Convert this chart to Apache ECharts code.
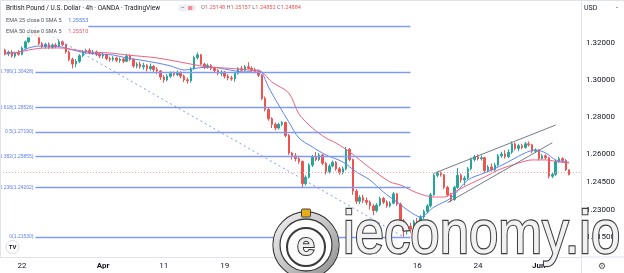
<!DOCTYPE html>
<html><head><meta charset="utf-8">
<script src="https://cdn.jsdelivr.net/npm/echarts/dist/echarts.min.js"></script>
<style>html,body{margin:0;padding:0;background:#fff;overflow:hidden}#c{width:624px;height:273px}</style>
</head><body><div id="c"></div><script>
// ---- data (8h-style candles) ----
const openP = [1.3160,1.3140,1.3150,1.3128,1.3145,1.3138,1.3172,1.3205,1.3245,1.3265,
1.3240,1.3195,1.3180,1.3192,1.3175,1.3188,1.3180,1.3205,1.3190,1.3150,
1.3110,1.3085,1.3100,1.3130,1.3150,1.3158,1.3145,1.3150,1.3138,1.3128,
1.3135,1.3115,1.3110,1.3118,1.3105,1.3112,1.3100,1.3128,1.3110,1.3075,
1.3085,1.3070,1.3078,1.3060,1.3072,1.3055,1.3048,1.3015,1.3000,1.3020,
1.3035,1.3028,1.3040,1.3020,1.3000,1.2995,1.3060,1.3120,1.3135,1.3085,
1.3068,1.3078,1.3062,1.3050,1.3035,1.3042,1.3020,1.3010,1.3005,1.3035,
1.3060,1.3052,1.3070,1.3062,1.3055,1.3045,1.3025,1.2900,1.2840,1.2790,
1.2760,1.2740,1.2760,1.2770,1.2700,1.2605,1.2590,1.2575,1.2560,1.2440,
1.2475,1.2540,1.2585,1.2570,1.2595,1.2550,1.2505,1.2535,1.2555,1.2520,
1.2500,1.2520,1.2625,1.2570,1.2400,1.2345,1.2365,1.2350,1.2340,1.2320,
1.2295,1.2325,1.2360,1.2340,1.2320,1.2335,1.2385,1.2330,1.2240,1.2185,
1.2210,1.2195,1.2235,1.2225,1.2260,1.2290,1.2320,1.2380,1.2485,1.2495,
1.2488,1.2420,1.2380,1.2355,1.2420,1.2485,1.2460,1.2470,1.2520,1.2570,
1.2585,1.2575,1.2580,1.2510,1.2530,1.2515,1.2540,1.2590,1.2600,1.2585,
1.2610,1.2655,1.2630,1.2645,1.2635,1.2655,1.2650,1.2615,1.2620,1.2575,
1.2590,1.2580,1.2480,1.2490,1.2560,1.2575,1.2565,1.25148];
const highP = [1.3168,1.3158,1.3160,1.3152,1.3160,1.3180,1.3212,1.3255,1.3278,1.32874,
1.3248,1.3205,1.3200,1.3202,1.3196,1.3198,1.3215,1.3212,1.3195,1.3158,
1.3120,1.3112,1.3138,1.3160,1.3168,1.3170,1.3162,1.3158,1.3148,1.3145,
1.3140,1.3125,1.3128,1.3125,1.3120,1.3118,1.3140,1.3137,1.3115,1.3095,
1.3098,1.3092,1.3085,1.3088,1.3080,1.3068,1.3052,1.3025,1.3030,1.3045,
1.3045,1.3050,1.3046,1.3028,1.3012,1.3068,1.3130,1.3148,1.3140,1.3092,
1.3088,1.3085,1.3070,1.3058,1.3052,1.3048,1.3030,1.3022,1.3042,1.3068,
1.3075,1.3080,1.3095,1.3072,1.3065,1.3052,1.3030,1.2910,1.2850,1.2798,
1.2770,1.2768,1.2778,1.2775,1.2708,1.2612,1.2605,1.2590,1.2565,1.2485,
1.2550,1.2595,1.2610,1.2605,1.2600,1.2558,1.2545,1.2565,1.2562,1.2530,
1.2532,1.2638,1.2632,1.2575,1.2410,1.2378,1.2380,1.2365,1.2350,1.2330,
1.2335,1.2370,1.2368,1.2350,1.2345,1.2395,1.2390,1.2338,1.2250,1.2225,
1.2230,1.2245,1.2255,1.2270,1.2300,1.2330,1.2390,1.2495,1.2505,1.2505,
1.2492,1.2428,1.2390,1.2428,1.2525,1.2495,1.2482,1.2530,1.2580,1.2595,
1.2598,1.2592,1.2585,1.2540,1.2548,1.2552,1.2600,1.2612,1.2620,1.2625,
1.2668,1.2662,1.2655,1.2655,1.2665,1.2668,1.2655,1.2630,1.2625,1.2600,
1.2598,1.2585,1.2500,1.2568,1.2585,1.2582,1.2572,1.25157];
const lowP = [1.3132,1.3128,1.3120,1.3118,1.3130,1.3132,1.3165,1.3198,1.3232,1.3235,
1.3188,1.3170,1.3168,1.3166,1.3168,1.3170,1.3175,1.3182,1.3142,1.3100,
1.3062,1.3068,1.3090,1.3122,1.3140,1.3138,1.3135,1.3128,1.3118,1.3115,
1.3105,1.3098,1.3100,1.3095,1.3092,1.3090,1.3095,1.3102,1.3065,1.3062,
1.3060,1.3055,1.3045,1.3050,1.3040,1.3030,1.3000,1.2985,1.2992,1.3010,
1.3018,1.3020,1.3008,1.2988,1.2980,1.2985,1.3055,1.3110,1.3078,1.3058,
1.3060,1.3052,1.3040,1.3025,1.3020,1.3008,1.2998,1.2995,1.2990,1.3028,
1.3045,1.3045,1.3055,1.3045,1.3035,1.3015,1.2890,1.2830,1.2780,1.2740,
1.2728,1.2732,1.2750,1.2690,1.2595,1.2570,1.2560,1.2548,1.2420,1.2430,
1.2468,1.2530,1.2560,1.2562,1.2540,1.2490,1.2495,1.2528,1.2510,1.2488,
1.2490,1.2512,1.2560,1.2380,1.2330,1.2330,1.2335,1.2325,1.2300,1.2270,
1.2285,1.2318,1.2330,1.2310,1.2312,1.2328,1.2320,1.2230,1.2153,1.2165,
1.2175,1.2185,1.2210,1.2215,1.2250,1.2280,1.2312,1.2375,1.2475,1.2478,
1.2410,1.2370,1.2340,1.2348,1.2412,1.2445,1.2430,1.2462,1.2512,1.2560,
1.2565,1.2565,1.2498,1.2500,1.2505,1.2505,1.2532,1.2580,1.2575,1.2578,
1.2600,1.2620,1.2615,1.2625,1.2630,1.2640,1.2605,1.2605,1.2565,1.2570,
1.2570,1.2468,1.2470,1.2482,1.2552,1.2555,1.2508,1.24852];
const closeP = [1.3140,1.3150,1.3128,1.3145,1.3138,1.3172,1.3205,1.3245,1.3265,1.3240,
1.3195,1.3180,1.3192,1.3175,1.3188,1.3180,1.3205,1.3190,1.3150,1.3110,
1.3085,1.3100,1.3130,1.3150,1.3158,1.3145,1.3150,1.3138,1.3128,1.3135,
1.3115,1.3110,1.3118,1.3105,1.3112,1.3100,1.3128,1.3110,1.3075,1.3085,
1.3070,1.3078,1.3060,1.3072,1.3055,1.3048,1.3015,1.3000,1.3020,1.3035,
1.3028,1.3040,1.3020,1.3000,1.2995,1.3060,1.3120,1.3135,1.3085,1.3068,
1.3078,1.3062,1.3050,1.3035,1.3042,1.3020,1.3010,1.3005,1.3035,1.3060,
1.3052,1.3070,1.3062,1.3055,1.3045,1.3025,1.2900,1.2840,1.2790,1.2760,
1.2740,1.2760,1.2770,1.2700,1.2605,1.2590,1.2575,1.2560,1.2440,1.2475,
1.2540,1.2585,1.2570,1.2595,1.2550,1.2505,1.2535,1.2555,1.2520,1.2500,
1.2520,1.2625,1.2570,1.2400,1.2345,1.2365,1.2350,1.2340,1.2320,1.2295,
1.2325,1.2360,1.2340,1.2320,1.2335,1.2385,1.2330,1.2240,1.2185,1.2210,
1.2195,1.2235,1.2225,1.2260,1.2290,1.2320,1.2380,1.2485,1.2495,1.2488,
1.2420,1.2380,1.2355,1.2420,1.2485,1.2460,1.2470,1.2520,1.2570,1.2585,
1.2575,1.2580,1.2510,1.2530,1.2515,1.2540,1.2590,1.2600,1.2585,1.2610,
1.2655,1.2630,1.2645,1.2635,1.2655,1.2650,1.2615,1.2620,1.2575,1.2590,
1.2580,1.2480,1.2490,1.2560,1.2575,1.2565,1.2515,1.24884];

const ema25Idx = [0,3,7,10,15,19,24,28,32,36,40,45,49,53,57,61,65,71,75,76,78,81,84,87,91,95,100,104,108,112,116,120,123,127,132,137,142,146,150,154,157,160,163,167];
const ema25Val = [1.3145,1.3145,1.3172,1.3182,1.3182,1.3166,1.3145,1.3139,1.3134,1.3118,1.3107,1.3091,1.3075,1.3053,1.3064,1.3069,1.3058,1.3042,1.3053,1.3042,1.2961,1.2864,1.2773,1.2686,1.2638,1.2595,1.2557,1.2503,1.2460,1.2395,1.2341,1.2287,1.2260,1.2314,1.2363,1.2460,1.2498,1.2530,1.2568,1.2606,1.2622,1.2606,1.2568,1.25553];
const ema50Idx = [0,3,7,12,16,21,25,31,36,45,55,60,65,72,76,79,84,87,91,95,98,102,108,114,117,122,127,130,133,137,142,146,152,156,160,164,167];
const ema50Val = [1.3139,1.3145,1.3161,1.3172,1.3172,1.3161,1.3150,1.3145,1.3134,1.3118,1.3085,1.3069,1.3064,1.3053,1.3042,1.2988,1.2929,1.2816,1.2740,1.2686,1.2659,1.2611,1.2525,1.2449,1.2433,1.2390,1.2368,1.2368,1.2395,1.2433,1.2476,1.2514,1.2551,1.2568,1.2568,1.2557,1.25510];

const fibRatios = ['0','0.236','0.382','0.5','0.618','0.786','1'];
const fibValues = [1.21530,1.24202,1.25855,1.27190,1.28526,1.30428,1.32874];
const fibHighIdx = 9, fibLowIdx = 118, fibEndIdx = 120;
const wedgeUpper = [[127,1.24957],[163,1.27564]];
const wedgeLower = [[131,1.23373],[162,1.26609]];
const lastPrice = 1.24884;
const lastOHLC = ['1.25148','1.25157','1.24852','1.24884'];
const emaLegend = ['1.25553','1.25510'];
const yTickLabels = [1.32,1.30,1.28,1.26,1.245,1.23,1.215];
const xTickDays = [2,10,16,22,31,41,47,53];
const xTickLabels = ['22','Apr','11','19','May','16','24','Jun'];
const monthLabels = ['Apr','May','Jun'];

// ---- build ----
const LEAD = 1, TRAIL = 3, N = closeP.length + LEAD + TRAIL;
const cats = Array.from({length:N}, (_, i) => String(i));
const candles = closeP.map((c, k) => [k + LEAD, openP[k], c, lowP[k], highP[k]]);
const ema25 = ema25Idx.map((k, i) => [k + LEAD, ema25Val[i]]);
const ema50 = ema50Idx.map((k, i) => [k + LEAD, ema50Val[i]]);
const tickCat = {};
xTickDays.forEach((d, i) => { tickCat[3 * d] = xTickLabels[i]; });

const fibColor = '#7f9af5';
const markData = [];
fibValues.forEach((v, i) => {
  markData.push([
    {coord:[fibHighIdx + LEAD, v], lineStyle:{color:fibColor, width:1.4, type:'solid'},
     label:{show:true, position:'start', distance:2, formatter: fibRatios[i] + '(' + v.toFixed(5) + ')',
            color:'#5f7ff2', fontSize:5, fontFamily:'Liberation Sans'}},
    {coord:[fibEndIdx + LEAD, v]}
  ]);
});
markData.push([
  {coord:[fibHighIdx + LEAD, highP[fibHighIdx]], lineStyle:{color:'#7f9af5', width:1, type:[2,3]}},
  {coord:[fibLowIdx + LEAD, lowP[fibLowIdx]]}
]);
[wedgeUpper, wedgeLower].forEach(w => {
  markData.push([
    {coord:[w[0][0] + LEAD, w[0][1]], lineStyle:{color:'#787b86', width:1, type:'solid'}},
    {coord:[w[1][0] + LEAD, w[1][1]]}
  ]);
});
markData.push({yAxis:lastPrice, lineStyle:{color:'#f3a3aa', width:1, type:[1,2]}});

const chart = echarts.init(document.getElementById('c'), null, {renderer:'canvas'});
const ring = new echarts.graphic.LinearGradient(0,0,1,1,[
  {offset:0,color:'#f4f4f4'},{offset:0.5,color:'#c4c4c4'},{offset:1,color:'#8a8a8a'}]);

const legendBg = 'rgba(255,255,255,0.85)';
chart.setOption({
  animation:false,
  backgroundColor:'#ffffff',
  grid:{left:0, right:43, top:1.41, bottom:16.1, containLabel:false},
  xAxis:{type:'category', data:cats, boundaryGap:true,
    axisLine:{show:true, lineStyle:{color:'#e0e3eb'}}, axisTick:{show:false}, splitLine:{show:false},
    axisLabel:{margin:5, fontSize:8, color:'#131722', fontFamily:'Roboto',
      interval:(idx) => tickCat[idx] !== undefined,
      formatter:(val, idx) => { const t = tickCat[idx]; if (t === undefined) return '';
        return monthLabels.includes(t) ? '{m|' + t + '}' : t; },
      rich:{m:{fontWeight:'bold', fontSize:8, color:'#131722', fontFamily:'Roboto'}}}},
  yAxis:{type:'value', position:'right', min:1.2045, max:1.3423, interval:0.0005, scale:true,
    axisLine:{show:true, lineStyle:{color:'#e0e3eb'}}, axisTick:{show:false}, splitLine:{show:false},
    axisLabel:{margin:5, fontSize:8, color:'#131722', fontFamily:'Roboto', align:'left',
      formatter:(v) => { for (const t of yTickLabels) { if (Math.abs(v - t) < 1e-7) return t.toFixed(5); } return ''; }}},
  series:[
    {type:'candlestick', data:candles, encode:{x:0, y:[1,2,3,4]}, barWidth:2,
     itemStyle:{color:'#26a69a', color0:'#ef5350', borderColor:'#26a69a', borderColor0:'#ef5350', borderWidth:1},
     markLine:{silent:true, symbol:['none','none'], animation:false, label:{show:false}, data:markData}},
    {type:'line', data:ema25, symbol:'none', smooth:0.3, z:3,
     lineStyle:{color:'#5d84f6', width:1}},
    {type:'line', data:ema50, symbol:'none', smooth:0.3, z:3,
     lineStyle:{color:'#f0627d', width:1}}
  ],
  graphic:[
    {type:'line', shape:{x1:0, y1:0.5, x2:624, y2:0.5}, style:{stroke:'#e0e3eb', lineWidth:1}, z:50},
    {type:'line', shape:{x1:0.5, y1:0, x2:0.5, y2:257}, style:{stroke:'#e0e3eb', lineWidth:1}, z:50},
    {type:'line', shape:{x1:581.5, y1:0, x2:581.5, y2:273}, style:{stroke:'#e0e3eb', lineWidth:1}, z:50},
    {type:'line', shape:{x1:581, y1:257, x2:624, y2:257}, style:{stroke:'#e0e3eb', lineWidth:1}, z:50},
    // legend
    {type:'text', x:6, y:4.5, z:60, style:{text:'British Pound / U.S. Dollar · 4h · OANDA · TradingView',
      font:'6.5px Roboto', fill:'#131722', backgroundColor:legendBg}},
    {type:'rect', x:178, y:4.5, z:60, shape:{width:18, height:7, r:3.5}, style:{fill:'#eef0f5'}},
    {type:'text', x:181, y:4.5, z:61, style:{text:'−', font:'6.5px Roboto', fill:'#555'}},
    {type:'rect', x:188, y:6, z:61, shape:{width:4.5, height:4, r:1}, style:{fill:'#f58c99'}},
    {type:'text', x:201, y:5, z:60, style:{
      text:'{l|O}{v|' + lastOHLC[0] + '} {l|H}{v|' + lastOHLC[1] + '} {l|L}{v|' + lastOHLC[2] + '} {l|C}{v|' + lastOHLC[3] + '}',
      font:'5.6px Roboto', rich:{l:{fill:'#6a6d78', font:'5.6px Roboto'}, v:{fill:'#ef5350', font:'5.6px Roboto'}}}},
    {type:'text', x:6, y:15, z:60, style:{
      text:'{l|EMA 25 close 0 SMA 5}  {v|' + emaLegend[0] + '}', backgroundColor:legendBg,
      rich:{l:{fill:'#50535e', font:'5.5px Roboto'}, v:{fill:'#4f78f5', font:'5.5px Roboto'}}}},
    {type:'text', x:6, y:25.5, z:60, style:{
      text:'{l|EMA 50 close 0 SMA 5}  {v|' + emaLegend[1] + '}', backgroundColor:legendBg,
      rich:{l:{fill:'#50535e', font:'5.5px Roboto'}, v:{fill:'#f0506e', font:'5.5px Roboto'}}}},
    {type:'text', x:584, y:5, z:60, style:{text:'USD', font:'7px Roboto', fill:'#131722'}},
    {type:'text', x:616, y:4.5, z:60, style:{text:'-', font:'7px Roboto', fill:'#131722'}},
    {type:'text', x:602, y:267, z:60, style:{text:'⚙', font:'9px "DejaVu Sans"', fill:'#555', align:'center', verticalAlign:'middle'}},
    // TradingView badge
    {type:'circle', z:60, shape:{cx:12.5, cy:247, r:6.5}, style:{fill:'#fff', stroke:'#d8dbe3', lineWidth:1}},
    {type:'text', z:61, x:12.5, y:247.3, style:{text:'TV', font:'bold 6px Roboto', fill:'#131722', align:'center', verticalAlign:'middle'}},
    // watermark logo
    {type:'circle', z:100, shape:{cx:306, cy:245, r:33}, style:{fill:'#ffffff', stroke:'#3a3a3a', lineWidth:1.3}},
    {type:'circle', z:101, shape:{cx:306, cy:245, r:29.5}, style:{fill:'none', stroke:ring, lineWidth:6}},
    {type:'circle', z:102, shape:{cx:306, cy:245, r:26}, style:{fill:'#ffffff', stroke:'#3a3a3a', lineWidth:1.3}},
    {type:'circle', z:103, shape:{cx:306, cy:247, r:19}, style:{fill:'#fbfbfb', stroke:'#3a3a3a', lineWidth:2}},
    {type:'text', z:104, x:306, y:246, style:{text:'e', font:'bold 32px "Liberation Sans"', fill:'#efefef', stroke:'#333', lineWidth:2, align:'center', verticalAlign:'middle'}},
    {type:'rect', z:104, x:301.5, y:209, shape:{width:9, height:8, r:1}, style:{fill:'#e6ad16', stroke:'#444', lineWidth:1}},
    {type:'text', z:104, x:343, y:205, scaleX:0.85, style:{text:'ieconomy.io', font:'62px "Liberation Sans"',
      fill:'#f1f1f1', stroke:'#404040', lineWidth:2.4, verticalAlign:'top'}}
  ]
});
</script></body></html>
